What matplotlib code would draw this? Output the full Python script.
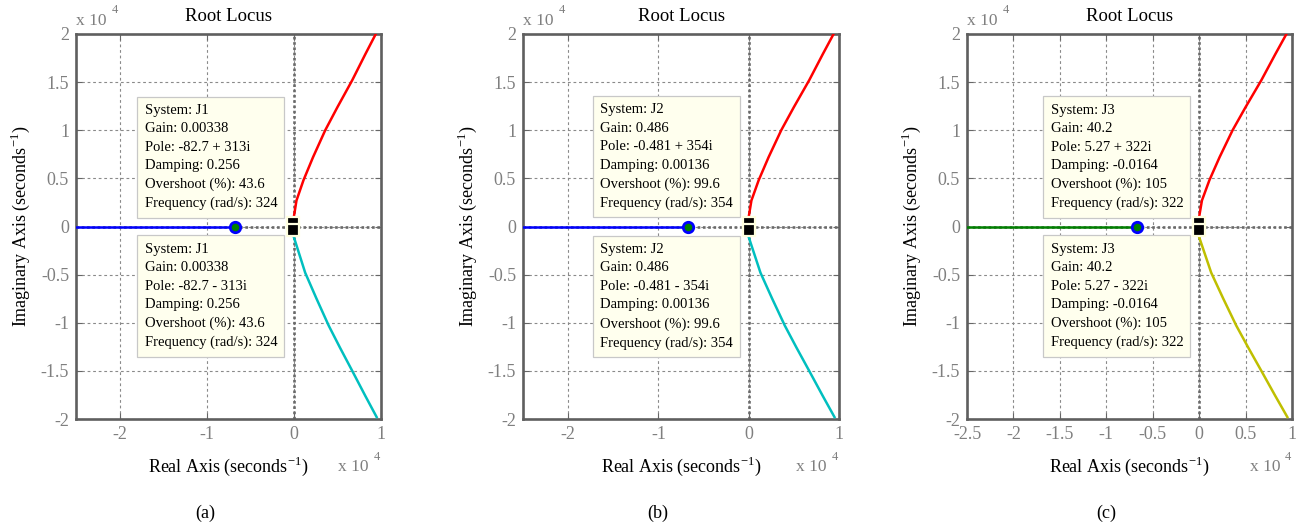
import numpy as np
import matplotlib
matplotlib.use("Agg")
import matplotlib.pyplot as plt

plt.rcParams["font.family"] = ["Liberation Serif", "DejaVu Serif"]
plt.rcParams["mathtext.fontset"] = "custom"
plt.rcParams["mathtext.rm"] = "Liberation Serif"

SCALE = 1e4  # axes are drawn in units of 10^4 s^-1

# datatip values for the three systems
systems = ["J1", "J2", "J3"]
gains = [0.00338, 0.486, 40.2]
pole_re = [-82.7, -0.481, 5.27]
pole_im = [313, 354, 322]
damping = [0.256, 0.00136, -0.0164]
overshoot = [43.6, 99.6, 105]
frequency = [324, 354, 322]
panel_tags = ["(a)", "(b)", "(c)"]

# root locus branches (units of 10^4)
zero_re = -0.67
real_branch = [-3.0, -0.67]
upper_re = [0.0, 0.03, 0.11, 0.22, 0.36, 0.50, 0.67, 0.82, 0.94]
upper_im = [0.10, 0.27, 0.48, 0.72, 1.00, 1.24, 1.52, 1.79, 2.00]
lower_re = [0.0, 0.13, 0.26, 0.40, 0.53, 0.67, 0.82, 0.95]
lower_im = [-0.11, -0.48, -0.75, -1.03, -1.26, -1.50, -1.76, -1.98]

xticks_coarse = [-2, -1, 0, 1]
xticks_fine = [-2.5, -2, -1.5, -1, -0.5, 0, 0.5, 1]
yticks = [-2, -1.5, -1, -0.5, 0, 0.5, 1, 1.5, 2]

branch_colors = [("#0000ff", "#ff0000", "#00bfbf"),
                 ("#0000ff", "#ff0000", "#00bfbf"),
                 ("#008000", "#ff0000", "#bfbf00")]

W, H = 1310, 532
fig = plt.figure(figsize=(W / 100, H / 100), dpi=100)

# axes boxes in pixels: left, width
boxes = [(76, 305), (523, 316), (967, 325)]
ax_top, ax_bot = 34, 419

grey = "#7f7f7f"
px = 0.72  # pixels -> points at 100 dpi


def fmt(v):
    return "%.3g" % v


for i, (left, width) in enumerate(boxes):
    ax = fig.add_axes([left / W, (H - ax_bot) / H, width / W, (ax_bot - ax_top) / H])
    ax.set_xlim(-2.5, 1)
    ax.set_ylim(-2, 2)
    ax.set_xticks(xticks_fine if i == 2 else xticks_coarse)
    ax.set_yticks(yticks)
    ax.set_xticklabels([("%g" % t) for t in ax.get_xticks()])
    ax.set_yticklabels([("%g" % t) for t in yticks])
    ax.tick_params(direction="in", length=4, width=0.8, color="#666666",
                   labelcolor=grey, labelsize=13, top=True, right=True, pad=5)
    for s in ax.spines.values():
        s.set_color("#5f5f5f")
        s.set_linewidth(1.9)
    ax.grid(True, ls=(0, (2.5, 2.5)), color="#8a8a8a", lw=0.8)
    ax.set_axisbelow(True)

    # dotted real / imaginary axes
    ax.axhline(0, ls=(0, (1, 1)), color="#6a6a6a", lw=1.9, zorder=1.5)
    ax.axvline(0, ls=(0, (1, 1)), color="#6a6a6a", lw=1.9, zorder=1.5)

    c_real, c_up, c_low = branch_colors[i]
    ax.plot(real_branch, [0, 0], color=c_real, lw=1.8, zorder=3)
    ax.plot(upper_re, upper_im, color=c_up, lw=1.8, zorder=3)
    ax.plot(lower_re, lower_im, color=c_low, lw=1.8, zorder=3)
    ax.plot([zero_re], [0], "o", ms=7.5, mec="#0000ff", mfc="#008000",
            mew=2.0, zorder=4)

    pr = pole_re[i] / SCALE
    pi_ = pole_im[i] / SCALE
    # datatip markers on the complex pair
    for sign in (1, -1):
        ax.plot([pr], [sign * pi_], "s", ms=8, mfc="black", mec="#ffffe0",
                mew=1.6, zorder=6, clip_on=False)

    for sign in (1, -1):
        pole = "%s %s %si" % (fmt(pole_re[i]), "+" if sign > 0 else "-",
                              fmt(pole_im[i]))
        txt = "\n".join([
            "System: %s" % systems[i],
            "Gain: %s" % fmt(gains[i]),
            "Pole: %s" % pole,
            "Damping: %s" % fmt(damping[i]),
            "Overshoot (%%): %s" % fmt(overshoot[i]),
            "Frequency (rad/s): %s" % fmt(frequency[i]),
        ])
        ax.annotate(txt, xy=(pr, sign * pi_), xytext=(-16 * px, sign * 13 * px),
                    textcoords="offset points", ha="right", ma="left",
                    va="bottom" if sign > 0 else "top", fontsize=10.5,
                    linespacing=1.55, zorder=7,
                    bbox=dict(boxstyle="square,pad=0.5", fc="#ffffee",
                              ec="#c8c8c8", lw=0.9))

    ax.set_title("Root Locus", fontsize=13.5, pad=9)
    ax.set_xlabel("Real Axis (seconds$^{\\mathrm{-1}}$)", fontsize=13)
    ax.set_ylabel("Imaginary Axis (seconds$^{\\mathrm{-1}}$)", fontsize=13)
    ax.xaxis.set_label_coords(0.5, -36 / (ax_bot - ax_top))
    ax.yaxis.set_label_coords(-44 / width, 0.5)

    # exponent labels
    ax.annotate("x 10", xy=(0, 1), xycoords="axes fraction",
                xytext=(0, 9 * px), textcoords="offset points",
                ha="left", va="baseline", fontsize=12.5, color=grey)
    ax.annotate("4", xy=(0, 1), xycoords="axes fraction",
                xytext=(36 * px, 24 * px), textcoords="offset points",
                ha="left", va="center", fontsize=9, color=grey)
    ax.annotate("x 10", xy=(1, 0), xycoords="axes fraction",
                xytext=(-12 * px, -52 * px), textcoords="offset points",
                ha="right", va="baseline", fontsize=12.5, color=grey)
    ax.annotate("4", xy=(1, 0), xycoords="axes fraction",
                xytext=(-4 * px, -38 * px), textcoords="offset points",
                ha="center", va="center", fontsize=9, color=grey)

    fig.text((left + width / 2 - 23) / W, 1 - 513 / H, panel_tags[i],
             ha="center", va="center", fontsize=13)

fig.savefig("out.png", dpi=100)
